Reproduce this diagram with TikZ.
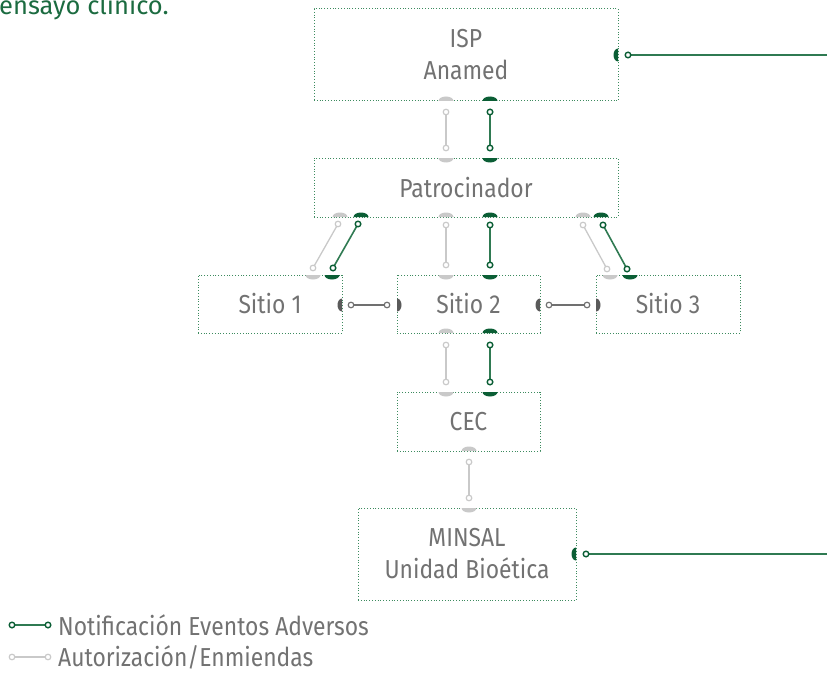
\documentclass[tikz,border=0pt]{standalone}
\usepackage{fontspec}
\setmainfont{Fira Sans}[FakeStretch=0.88]
\newfontfamily\titlefont{Fira Sans}
\definecolor{boxgreen}{HTML}{3D8B5F}
\definecolor{dkgreen}{HTML}{0B5E35}
\definecolor{lngreen}{HTML}{2F7A52}
\definecolor{lgray}{HTML}{C9C9C9}
\definecolor{dgray}{HTML}{5A5A5A}
\definecolor{mgray}{HTML}{707070}
\definecolor{txtgray}{HTML}{727272}
\definecolor{titlegreen}{HTML}{1B6B40}
\begin{document}
\begin{tikzpicture}[x=1pt,y=1pt,
  box/.style={draw=boxgreen, line width=1pt, dash pattern=on 1pt off 1.8pt,
    inner sep=0pt, outer sep=0pt, text=txtgray, align=center,
    font=\fontsize{26}{32}\selectfont},
  glink/.style={draw=lgray, line width=1.3pt},
  elink/.style={draw=lngreen, line width=1.6pt},
  hlink/.style={draw=mgray, line width=1.3pt},
  gend/.style={draw=lgray, fill=white, line width=1.2pt},
  eend/.style={draw=dkgreen, fill=white, line width=1.4pt},
  hend/.style={draw=mgray, fill=white, line width=1.2pt},
  hdup/.pic={\fill (-7.5,0) arc[start angle=180,end angle=0,x radius=7.5pt,y radius=4.5pt] -- cycle;},
  hddown/.pic={\fill (-7.5,0) arc[start angle=180,end angle=360,x radius=7.5pt,y radius=4.5pt] -- cycle;},
  hdleft/.pic={\fill (0,6.5) arc[start angle=90,end angle=270,x radius=4.5pt,y radius=6.5pt] -- cycle;},
  hdright/.pic={\fill (0,6.5) arc[start angle=90,end angle=-90,x radius=4.5pt,y radius=6.5pt] -- cycle;},
  legtext/.style={text=txtgray, anchor=west, inner sep=0pt, font=\fontsize{26}{30}\selectfont}
]
\useasboundingbox (0,0) rectangle (827,-674);

% title fragment
\node[anchor=base west, inner sep=0pt, text=titlegreen, font=\titlefont\fontsize{25.5}{30}\selectfont] (title) at (-1,-15) {ensayo clínico.};

% boxes
\node[box, minimum width=304pt, minimum height=92pt] (isp) at (466,-55) {ISP\\Anamed};
\node[box, minimum width=304pt, minimum height=59pt] (pat) at (466,-187.5) {Patrocinador};
\node[box, minimum width=144pt, minimum height=58pt] (s1) at (270,-304) {Sitio 1};
\node[box, minimum width=143pt, minimum height=58pt] (s2) at (468.5,-304) {Sitio 2};
\node[box, minimum width=144pt, minimum height=58pt] (s3) at (668,-304) {Sitio 3};
\node[box, minimum width=143pt, minimum height=59pt] (cec) at (468.5,-421.5) {CEC};
\node[box, minimum width=218pt, minimum height=92pt] (min) at (467,-554) {MINSAL\\Unidad Bioética};

% ISP - Patrocinador
\pic[fill=lgray] at (446,-101) {hdup};
\pic[fill=lgray] at (446,-158) {hddown};
\pic[fill=dkgreen] at (490,-101) {hdup};
\pic[fill=dkgreen] at (490,-158) {hddown};
\coordinate (g1a) at (446,-112); \coordinate (g1b) at (446,-148);
\coordinate (e1a) at (490,-112); \coordinate (e1b) at (490,-148);
\draw[glink] (g1a) -- (g1b);
\draw[elink] (e1a) -- (e1b);

% Patrocinador - Sitio 1
\pic[fill=lgray] at (340,-217) {hdup};
\pic[fill=lgray] at (313,-275) {hddown};
\pic[fill=dkgreen] at (361,-217) {hdup};
\pic[fill=dkgreen] at (332,-275) {hddown};
\coordinate (g2a) at (338,-224); \coordinate (g2b) at (313,-268);
\coordinate (e2a) at (358,-224); \coordinate (e2b) at (333,-268);
\draw[glink] (g2a) -- (g2b);
\draw[elink] (e2a) -- (e2b);

% Patrocinador - Sitio 2
\pic[fill=lgray] at (446,-217) {hdup};
\pic[fill=lgray] at (446,-275) {hddown};
\pic[fill=dkgreen] at (490,-217) {hdup};
\pic[fill=dkgreen] at (490,-275) {hddown};
\coordinate (g3a) at (446,-225); \coordinate (g3b) at (446,-265);
\coordinate (e3a) at (490,-225); \coordinate (e3b) at (490,-265);
\draw[glink] (g3a) -- (g3b);
\draw[elink] (e3a) -- (e3b);

% Patrocinador - Sitio 3
\pic[fill=lgray] at (583,-217) {hdup};
\pic[fill=lgray] at (610,-275) {hddown};
\pic[fill=dkgreen] at (601,-217) {hdup};
\pic[fill=dkgreen] at (630,-275) {hddown};
\coordinate (g4a) at (583,-225); \coordinate (g4b) at (607,-269);
\coordinate (e4a) at (603,-225); \coordinate (e4b) at (627,-269);
\draw[glink] (g4a) -- (g4b);
\draw[elink] (e4a) -- (e4b);

% Sitio 1 - Sitio 2 - Sitio 3
\pic[fill=dgray] at (342,-305) {hdleft};
\pic[fill=dgray] at (397,-305) {hdright};
\pic[fill=dgray] at (540,-305) {hdleft};
\pic[fill=dgray] at (596,-305) {hdright};
\coordinate (h1a) at (351,-305); \coordinate (h1b) at (387,-305);
\coordinate (h2a) at (549,-305); \coordinate (h2b) at (587,-305);
\draw[hlink] (h1a) -- (h1b);
\draw[hlink] (h2a) -- (h2b);

% Sitio 2 - CEC
\pic[fill=lgray] at (446,-333) {hdup};
\pic[fill=lgray] at (446,-392) {hddown};
\pic[fill=dkgreen] at (490,-333) {hdup};
\pic[fill=dkgreen] at (490,-392) {hddown};
\coordinate (g5a) at (446,-345); \coordinate (g5b) at (446,-382);
\coordinate (e5a) at (490,-345); \coordinate (e5b) at (490,-382);
\draw[glink] (g5a) -- (g5b);
\draw[elink] (e5a) -- (e5b);

% CEC - MINSAL
\pic[fill=lgray] at (469,-451) {hdup};
\pic[fill=lgray] at (469,-508) {hddown};
\coordinate (g6a) at (469,-462); \coordinate (g6b) at (469,-498);
\draw[glink] (g6a) -- (g6b);

% right-side notifications
\pic[fill=dkgreen] at (618,-55) {hdleft};
\pic[fill=dkgreen] at (576,-554) {hdleft};
\coordinate (r1a) at (628,-55); \coordinate (r1b) at (828,-55);
\coordinate (r2a) at (586,-554); \coordinate (r2b) at (828,-554);
\draw[elink] (r1a) -- (r1b);
\draw[elink] (r2a) -- (r2b);

% legend
\coordinate (l1a) at (12,-625); \coordinate (l1b) at (48,-625);
\coordinate (l2a) at (12,-657); \coordinate (l2b) at (48,-657);
\draw[elink] (l1a) -- (l1b);
\draw[glink] (l2a) -- (l2b);
\node[legtext] (leg1) at (58,-625) {Notificación Eventos Adversos};
\node[legtext] (leg2) at (58,-657) {Autorización/Enmiendas};

% end circles
\foreach \c in {g1a,g1b,g2a,g2b,g3a,g3b,g4a,g4b,g5a,g5b,g6a,g6b,l2a,l2b}
  \draw[gend] (\c) circle[radius=2.8pt];
\foreach \c in {e1a,e1b,e2a,e2b,e3a,e3b,e4a,e4b,e5a,e5b,r1a,r2a,l1a,l1b}
  \draw[eend] (\c) circle[radius=2.8pt];
\foreach \c in {h1a,h1b,h2a,h2b}
  \draw[hend] (\c) circle[radius=2.8pt];
\end{tikzpicture}
\end{document}
